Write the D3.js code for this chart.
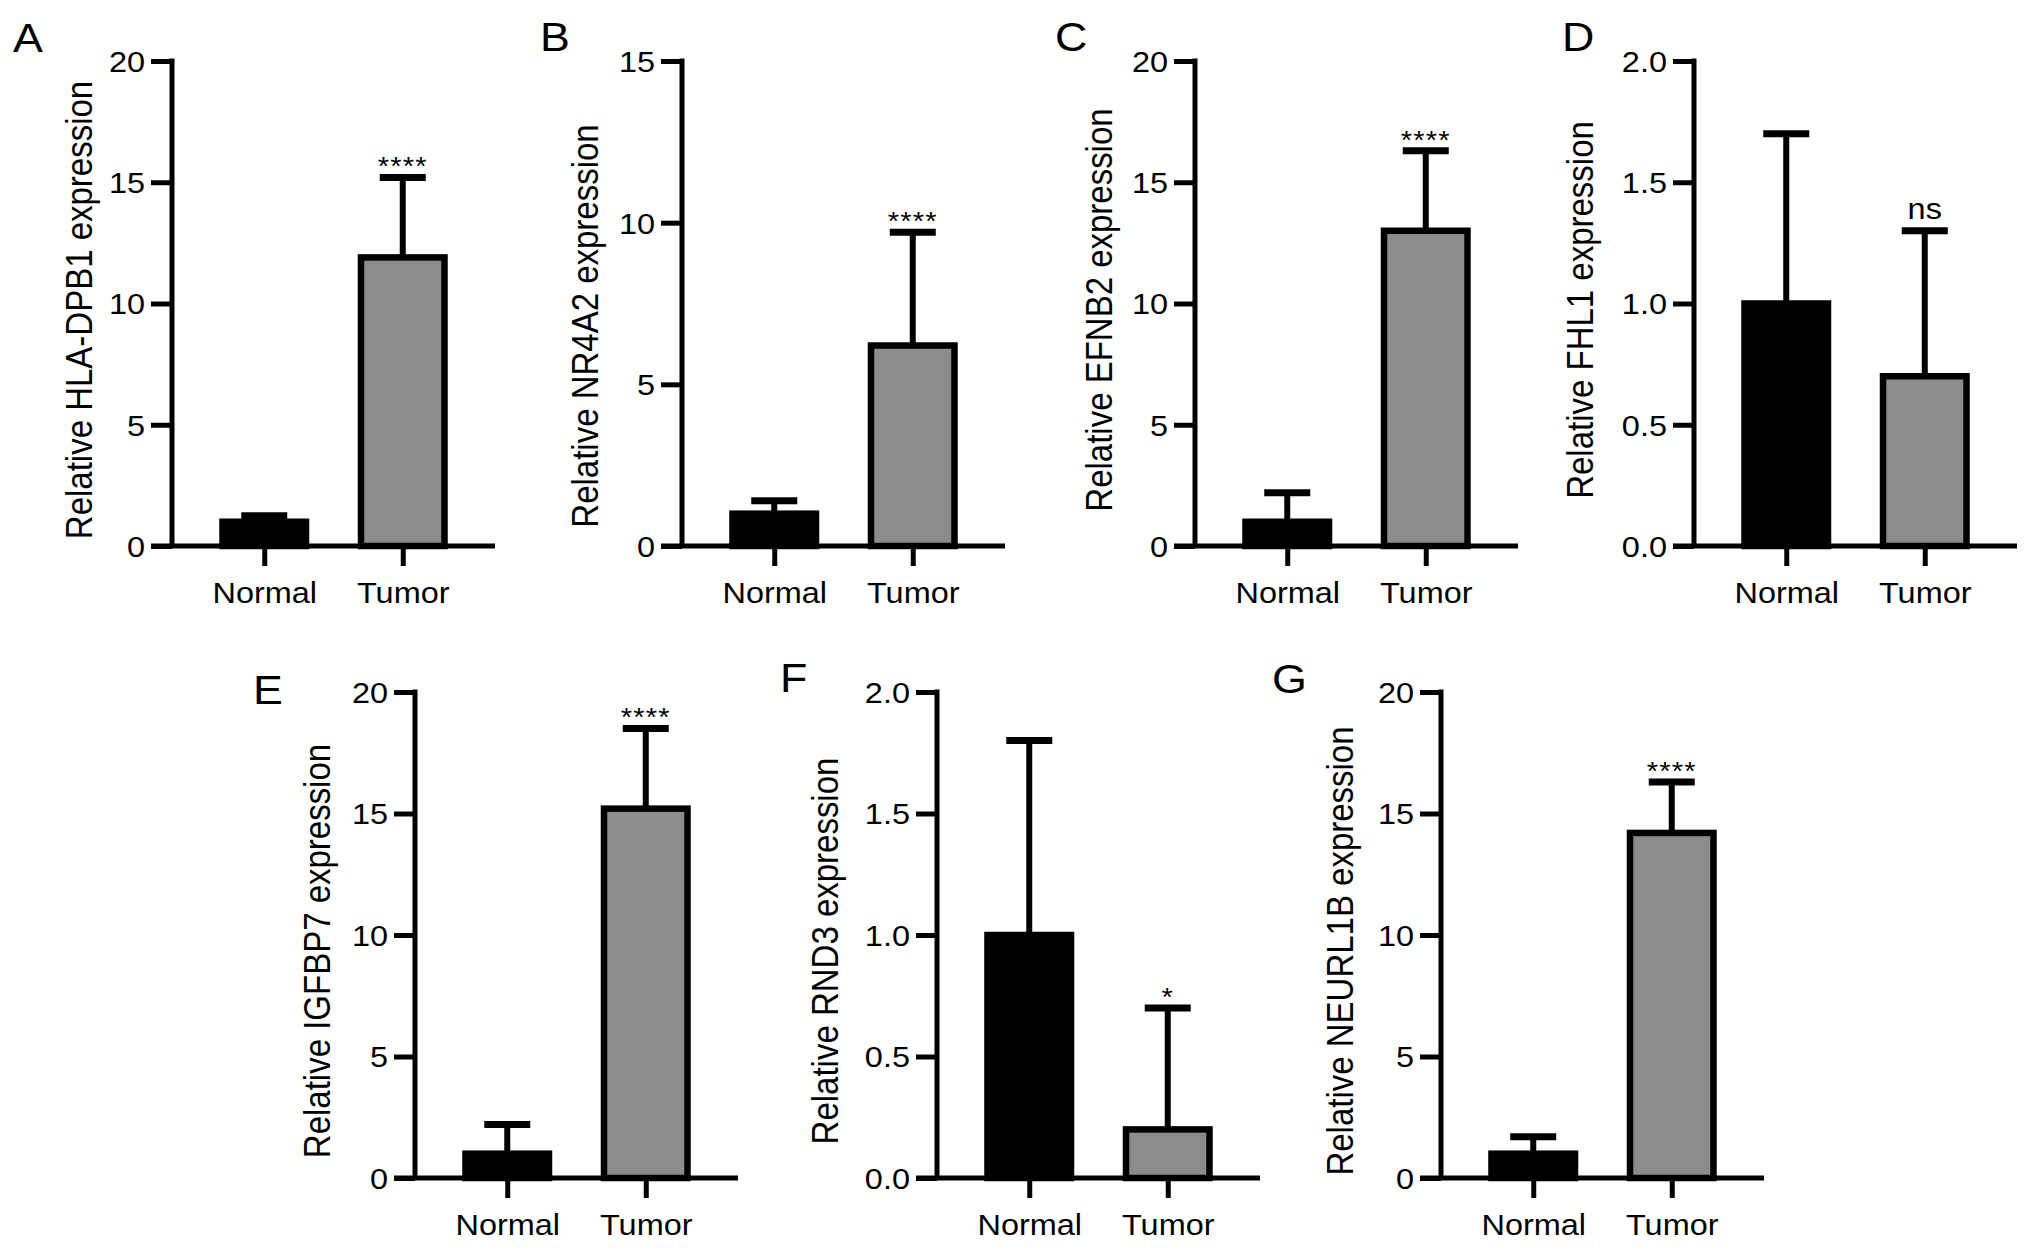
<!doctype html>
<html>
<head>
<meta charset="utf-8">
<script src="https://d3js.org/d3.v7.min.js"></script>
<style>
  body { margin: 0; background: #fff; }
  svg text { font-family: "Liberation Sans", Arial, sans-serif; fill: #000; }
</style>
</head>
<body>
<script>
  // ---- data ----
  var categories = ["Normal", "Tumor"];
  var panelLetters = ["A", "B", "C", "D", "E", "F", "G"];
  var genes = ["HLA-DPB1", "NR4A2", "EFNB2", "FHL1", "IGFBP7", "RND3", "NEURL1B"];
  var meanNormal = [1.0, 1.0, 1.0, 1.0, 1.0, 1.0, 1.0];
  var meanTumor = [11.9, 6.2, 13.0, 0.7, 15.2, 0.2, 14.2];
  var errNormal = [0.25, 0.4, 1.2, 0.7, 1.2, 0.8, 0.7];
  var errTumor = [3.3, 3.5, 3.3, 0.6, 3.3, 0.5, 2.1];
  var yMax = [20, 15, 20, 2, 20, 2, 20];
  var yStep = [5, 5, 5, 0.5, 5, 0.5, 5];
  var significance = ["****", "****", "****", "ns", "****", "*", "****"];

  // ---- layout ----
  var width = 2032, height = 1248;
  var SX = 1.12;             // text in the figure is slightly stretched sideways
  var plotW = 323;
  var axisLeftX = [172, 682, 1195, 1694, 415, 937, 1441];
  var rowOf = [0, 0, 0, 0, 1, 1, 1];
  var rows = [
    {top: 61, zero: 546, labelMid: 310},
    {top: 692, zero: 1178, labelMid: 951}
  ];
  var ylabX = [92, 598, 1112, 1593, 330, 838, 1353];
  var ylabShift = [0, 16, 0, 0, 0, 0, 0];
  var letterX = [13, 540, 1055, 1562, 253, 780, 1272];
  var letterY = [52, 51, 51, 51, 704, 692, 693];
  var barFill = {Normal: "#000000", Tumor: "#8c8c8c"};

  var svg = d3.select("body").append("svg")
      .attr("width", width)
      .attr("height", height);

  function stretched(x, y) {
    return "translate(" + x + "," + y + ") scale(" + SX + ",1)";
  }

  genes.forEach(function(gene, i) {
    var row = rows[rowOf[i]];
    var x0 = axisLeftX[i];
    var g = svg.append("g");

    var y = d3.scaleLinear().domain([0, yMax[i]]).range([row.zero, row.top]);
    var x = d3.scalePoint().domain(categories).range([x0, x0 + plotW]).padding(0.666);
    var bw = 83.5;

    var bars = categories.map(function(c, k) {
      return {
        cat: c,
        mean: k === 0 ? meanNormal[i] : meanTumor[i],
        err: k === 0 ? errNormal[i] : errTumor[i]
      };
    });

    // error bars (upper only)
    var eb = g.selectAll(".eb").data(bars).enter().append("g");
    eb.append("line")
      .attr("x1", function(d) { return x(d.cat); })
      .attr("x2", function(d) { return x(d.cat); })
      .attr("y1", function(d) { return y(d.mean); })
      .attr("y2", function(d) { return y(d.mean + d.err); })
      .attr("stroke", "#000").attr("stroke-width", 6);
    eb.append("line")
      .attr("x1", function(d) { return x(d.cat) - 23; })
      .attr("x2", function(d) { return x(d.cat) + 23; })
      .attr("y1", function(d) { return y(d.mean + d.err); })
      .attr("y2", function(d) { return y(d.mean + d.err); })
      .attr("stroke", "#000").attr("stroke-width", 7);

    // bars
    g.selectAll(".bar").data(bars).enter().append("rect")
      .attr("x", function(d) { return x(d.cat) - bw / 2; })
      .attr("width", bw)
      .attr("y", function(d) { return y(d.mean); })
      .attr("height", function(d) { return row.zero - y(d.mean); })
      .attr("fill", function(d) { return barFill[d.cat]; })
      .attr("stroke", "#000")
      .attr("stroke-width", 6.5);

    // y axis
    var ticks = d3.range(0, yMax[i] + 1e-9, yStep[i]);
    var fmt = yStep[i] < 1 ? d3.format(".1f") : d3.format("d");
    var yAxis = g.append("g")
      .attr("transform", "translate(" + x0 + ",0)")
      .call(d3.axisLeft(y).tickValues(ticks).tickFormat(fmt).tickSize(21).tickSizeOuter(0));
    yAxis.select(".domain").remove();
    yAxis.selectAll(".tick line").attr("stroke", "#000").attr("stroke-width", 5);
    yAxis.selectAll(".tick text")
      .attr("x", -27 / SX)
      .attr("dy", "0.36em")
      .attr("transform", "scale(" + SX + ",1)")
      .style("font-size", "29px");

    g.append("line")
      .attr("x1", x0).attr("x2", x0)
      .attr("y1", row.top - 2.5).attr("y2", row.zero)
      .attr("stroke", "#000").attr("stroke-width", 5);
    g.append("line")
      .attr("x1", x0 - 21).attr("x2", x0 + plotW)
      .attr("y1", row.zero).attr("y2", row.zero)
      .attr("stroke", "#000").attr("stroke-width", 5);

    // x axis
    var xAxis = g.append("g")
      .attr("transform", "translate(0," + row.zero + ")")
      .call(d3.axisBottom(x).tickSize(20).tickSizeOuter(0));
    xAxis.select(".domain").remove();
    xAxis.selectAll(".tick line").attr("stroke", "#000").attr("stroke-width", 5);
    xAxis.selectAll(".tick text")
      .attr("y", 57)
      .attr("dy", null)
      .attr("transform", "scale(" + SX + ",1)")
      .style("font-size", "29px");

    // y label
    g.append("text")
      .attr("transform", "translate(" + ylabX[i] + "," + (row.labelMid + ylabShift[i]) + ") scale(" + SX + ",1) rotate(-90)")
      .attr("text-anchor", "middle")
      .style("font-size", "33px")
      .text("Relative " + gene + " expression");

    // significance mark above the tumor error bar
    var capY = y(meanTumor[i] + errTumor[i]);
    var isStar = significance[i] !== "ns";
    g.append("text")
      .attr("transform", stretched(x("Tumor"), isStar ? capY - 2 : capY - 12))
      .attr("text-anchor", "middle")
      .style("font-size", isStar ? "26px" : "29px")
      .style("letter-spacing", isStar ? "1px" : null)
      .text(significance[i]);

    // panel letter
    g.append("text")
      .attr("transform", stretched(letterX[i], letterY[i]))
      .style("font-size", "40px")
      .text(panelLetters[i]);
  });
</script>
</body>
</html>
